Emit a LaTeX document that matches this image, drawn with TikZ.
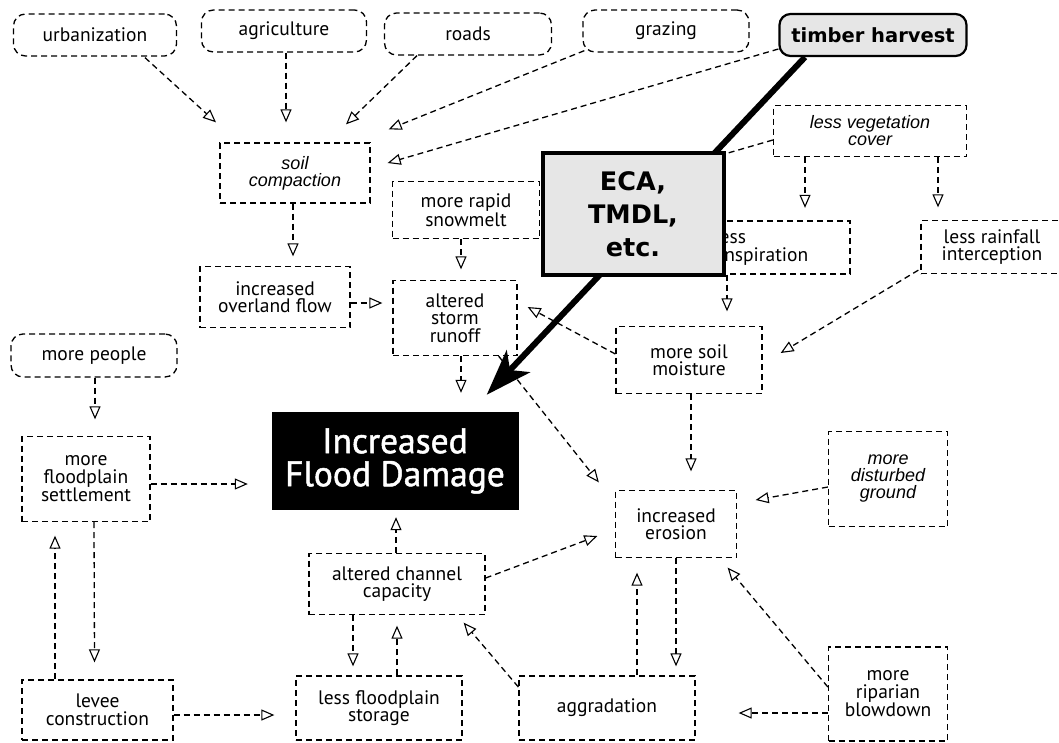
\documentclass[tikz,border=0pt]{standalone}
\usepackage{fontspec}
\setmainfont{PT Sans}
\newfontfamily\itfont{Liberation Sans}
\newfontfamily\dvfont{DejaVu Sans}
\newfontfamily\ifdfont{PT Sans}[FakeBold=1.4]
\usetikzlibrary{arrows.meta,calc}
\definecolor{lgray}{HTML}{E6E6E6}
\tikzset{
  box/.style={draw, dash pattern=on 6pt off 4pt, line width=1.3pt, inner sep=0pt,
    align=center, font=\fontsize{19.5}{17.5}\selectfont},
  rbox/.style={box, rounded corners=12pt},
  ibox/.style={box, font=\itfont\itshape\fontsize{18}{17}\selectfont},
  dep/.style={draw, dash pattern=on 6pt off 4pt, line width=1.3pt,
    -{Triangle[open,length=13pt,width=11pt,line width=1.1pt]}},
  sz/.style 2 args={minimum width=#1pt, minimum height=#2pt}
}
\begin{document}
\begin{tikzpicture}[x=1pt,y=-1pt]
\useasboundingbox (0,0) rectangle (1059,742);
% top row
\node[rbox, sz={163}{42}] (urb) at (95,35) {urbanization};
\node[rbox, sz={165}{42}] (agr) at (284,31) {agriculture};
\node[rbox, sz={167}{42}] (roads) at (468,34) {roads};
\node[rbox, sz={166}{42}] (graz) at (666,31) {grazing};
\node[draw, line width=2.2pt, fill=lgray, rounded corners=11pt, sz={187}{42}, inner sep=0pt,
  font=\dvfont\bfseries\fontsize{19.5}{20}\selectfont] (timber) at (873,35) {timber harvest};
% middle
\node[ibox, sz={150}{60}] (soil) at (295,173) {soil\\compaction};
\node[box, sz={147}{57}] (snow) at (466,210) {more rapid\\snowmelt};
\node[box, sz={150}{61}] (over) at (275,297) {increased\\overland flow};
\node[box, sz={124}{75}] (storm) at (455,318) {altered\\storm\\runoff};
\node[ibox, sz={193}{51}] (veg) at (870,131) {less vegetation\\cover};
\node[box, sz={240}{53}] (transp) at (730,247.5) {less\\evapotranspiration};
\node[box, sz={142}{53}] (rain) at (992,247) {less rainfall\\interception};
\node[box, sz={146}{67}] (moist) at (689,360) {more soil\\moisture};
\node[rbox, sz={166}{43}] (people) at (94,355.5) {more people};
\node[box, sz={128}{85}] (settle) at (86,479) {more\\floodplain\\settlement};
\node[fill=black, text=white, inner sep=0pt, sz={247}{98}, align=center,
  font=\ifdfont\fontsize{35.5}{33}\selectfont] (ifd) at (395,461) {Increased\\Flood Damage};
\node[box, sz={121}{67}] (eros) at (676,524) {increased\\erosion};
\node[ibox, sz={119}{95}] (dist) at (888,479) {more\\disturbed\\ground};
\node[box, sz={176}{61}] (chan) at (397,584) {altered channel\\capacity};
\node[box, sz={166}{64}] (stor) at (379,708) {less floodplain\\storage};
\node[box, sz={176}{64}] (aggr) at (607,708) {aggradation};
\node[box, sz={119}{94}] (rip) at (888,694) {more\\riparian\\blowdown};
\node[box, sz={151}{60}] (levee) at (97.5,710) {levee\\construction};
% connectors
\draw[dep] ($(urb.south)+(50,1)$) -- ($(soil.north)+(-79,-20)$);
\draw[dep] ($(agr.south)+(2,0)$) -- ($(soil.north)+(-9,-20)$);
\draw[dep] ($(roads.south)+(-51,0)$) -- ($(soil.north)+(51,-18)$);
\draw[dep] ($(graz.south west)+(2,-2)$) -- ($(soil.north east)+(18,-13)$);
\draw[dep] ($(timber.west)+(0,14)$) -- ($(soil.east)+(17,-10)$);
\draw[dep] ($(veg.west)+(0,9)$) -- ($(snow.east)+(12,-6)$);
\draw[dep] ($(soil.south)+(-2,0)$) -- ($(over.north)+(18,-9.5)$);
\draw[dep] ($(snow.south)+(-5,0)$) -- ($(storm.north)+(6,-10.5)$);
\draw[dep] ($(over.east)+(0,6)$) -- ($(storm.west)+(-10,-15)$);
\draw[dep] ($(storm.south)+(6,0)$) -- ($(ifd.north)+(66,-19)$);
\draw[dep] ($(moist.west)+(0,-6)$) -- ($(storm.east)+(10,-11)$);
\draw[dep] ($(storm.south east)+(-19,0)$) -- ($(eros.north west)+(-16,-7.5)$);
\draw[dep] ($(veg.south)+(-65,0)$) -- ($(transp.north)+(75,-12.5)$);
\draw[dep] ($(veg.south)+(68,0)$) -- ($(rain.north)+(-54,-12.5)$);
\draw[dep] ($(transp.south)+(-3,0)$) -- ($(moist.north)+(38,-14.5)$);
\draw[dep] ($(rain.south west)+(-2,-4)$) -- ($(moist.east)+(18,-7)$);
\draw[dep] ($(moist.south)+(2,0)$) -- ($(eros.north)+(15,-18.5)$);
\draw[dep] ($(people.south)+(1,0)$) -- ($(settle.north)+(9,-16.5)$);
\draw[dep] ($(settle.east)+(0,5)$) -- ($(ifd.west)+(-23.5,23)$);
\draw[dep] ($(settle.south)+(8,0)$) -- ($(levee.north)+(-3,-17)$);
\draw[dep] ($(levee.north)+(-42.5,0)$) -- ($(settle.south)+(-31,13.5)$);
\draw[dep] ($(levee.east)+(0,5)$) -- ($(stor.west)+(-21,7)$);
\draw[dep] ($(chan.north)+(-1,0)$) -- ($(ifd.south)+(1,7)$);
\draw[dep] ($(chan.east)+(0,-6)$) -- ($(eros.west)+(-17.5,12)$);
\draw[dep] ($(chan.south)+(-44,0)$) -- ($(stor.north)+(-26,-9)$);
\draw[dep] ($(stor.north)+(18,0)$) -- ($(chan.south)+(0,10.5)$);
\draw[dep] ($(aggr.west)+(0,-21)$) -- ($(chan.south east)+(-22,7.5)$);
\draw[dep] ($(aggr.north)+(30,0)$) -- ($(eros.south)+(-39,14.5)$);
\draw[dep] (eros.south) -- ($(aggr.north)+(69,-9)$);
\draw[dep] ($(dist.west)+(0,8)$) -- ($(eros.east)+(18.5,-24)$);
\draw[dep] ($(rip.west)+(0,-7)$) -- ($(eros.south east)+(-9.5,9.5)$);
\draw[dep] ($(rip.west)+(0,19)$) -- ($(aggr.east)+(43,5)$);
% thick arrow
\draw[line width=6pt, -{Stealth[length=46pt,width=32pt,inset=12pt]}]
  ($(timber.south)+(-68,0)$) -- ($(ifd.north east)+(-32,-17)$);
% ECA box on top
\node[draw, line width=4pt, fill=lgray, sz={181}{122}, inner sep=0pt, align=center,
  font=\dvfont\bfseries\fontsize{25.5}{33}\selectfont] (eca) at (633,214) {ECA,\\TMDL,\\etc.};
\end{tikzpicture}
\end{document}
